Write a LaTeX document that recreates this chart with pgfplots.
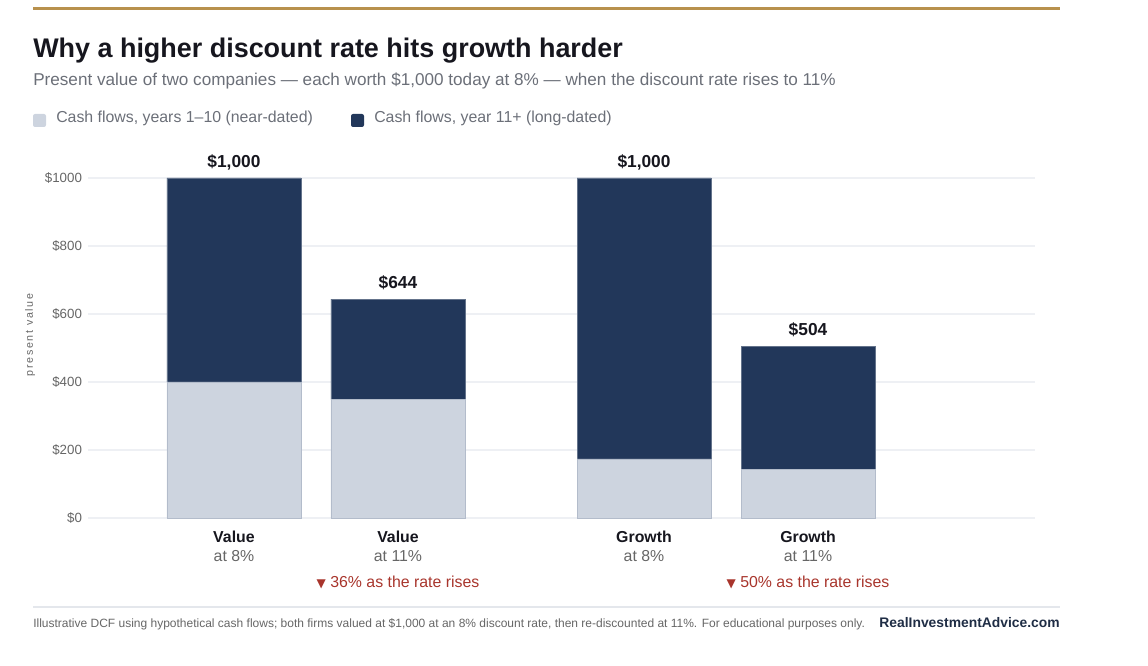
\documentclass[border=0pt]{standalone}
\usepackage{pgfplots}
\pgfplotsset{compat=1.18}
\usepackage{fontspec}
\setmainfont{Liberation Sans}
\newfontfamily\dejavu{DejaVu Sans}
\definecolor{navy}{HTML}{22375A}
\definecolor{lightbar}{HTML}{CDD4DF}
\definecolor{gold}{HTML}{B8914D}
\definecolor{tickgray}{HTML}{666666}
\definecolor{subgray}{HTML}{6B6F78}
\definecolor{darktext}{HTML}{16161E}
\definecolor{redtext}{HTML}{A8352C}
\definecolor{gridc}{HTML}{EEF0F4}
\definecolor{footline}{HTML}{E4E7EC}
\definecolor{brand}{HTML}{1F2D45}

\pgfplotstableread{
x near long
0   400 600
1   348 296
2.5 174 826
3.5 144 360
}\pvdata

\begin{document}
\begin{tikzpicture}[x=0.75pt,y=0.75pt]
\path[use as bounding box] (0,0) rectangle (1148,666);
% top gold rule
\fill[gold] (33,656) rectangle (1060,659);
% title & subtitle
\node[anchor=base west, inner sep=0, font=\fontsize{20.2}{22}\selectfont\bfseries, text=darktext] at (33,608) {Why a higher discount rate hits growth harder};
\node[anchor=base west, inner sep=0, font=\fontsize{12.85}{15}\selectfont, text=subgray] at (33,580) {Present value of two companies — each worth \$1,000 today at 8\% — when the discount rate rises to 11\%};
% legend
\fill[lightbar, rounded corners=1.5pt] (33,539) rectangle (46,552);
\node[anchor=base west, inner sep=0, font=\fontsize{11.9}{14}\selectfont, text=subgray] at (56,543) {Cash flows, years 1–10 (near-dated)};
\fill[navy, rounded corners=1.5pt] (351,539) rectangle (364,552);
\node[anchor=base west, inner sep=0, font=\fontsize{11.9}{14}\selectfont, text=subgray] at (374,543) {Cash flows, year 11+ (long-dated)};
% y label
\node[rotate=90, inner sep=0, font=\fontsize{8}{10}\selectfont\addfontfeature{LetterSpace=16}, text=tickgray] at (30,331) {present value};

\begin{axis}[
  at={(66pt,111pt)}, anchor=south west,
  scale only axis, width=710.25pt, height=255pt,
  xmin=-0.89, xmax=4.884, ymin=0, ymax=1000,
  ybar stacked, bar width=0.817,
  axis line style={draw=none},
  major tick length=0pt,
  ymajorgrids, grid style={gridc, line width=0.9pt},
  ytick={0,200,400,600,800,1000},
  yticklabels={\$0,\$200,\$400,\$600,\$800,\$1000},
  yticklabel style={font=\fontsize{10}{12}\selectfont, text=tickgray, xshift=-1pt},
  xtick={0,1,2.5,3.5},
  xticklabels={
    {{\color{darktext}\bfseries Value}\\{\color{tickgray}at 8\%}},
    {{\color{darktext}\bfseries Value}\\{\color{tickgray}at 11\%}\\[5.25pt]{\color{redtext}{\dejavu\fontsize{9}{10}\selectfont▼} 36\% as the rate rises}},
    {{\color{darktext}\bfseries Growth}\\{\color{tickgray}at 8\%}},
    {{\color{darktext}\bfseries Growth}\\{\color{tickgray}at 11\%}\\[5.25pt]{\color{redtext}{\dejavu\fontsize{9}{10}\selectfont▼} 50\% as the rate rises}}
  },
  xticklabel style={align=center, font=\fontsize{11.9}{14.25}\selectfont, anchor=north, yshift=-6pt},
  clip=false,
]
\addplot[fill=lightbar, draw=lightbar!85!navy, line width=0.4pt] table[x=x, y=near] {\pvdata};
\addplot[fill=navy, draw=navy!70!white, line width=0.4pt] table[x=x, y=long] {\pvdata};
\node[anchor=base, font=\fontsize{13}{15}\selectfont\bfseries, text=darktext, yshift=7.6pt] at (axis cs:0,1000) {\$1,000};
\node[anchor=base, font=\fontsize{13}{15}\selectfont\bfseries, text=darktext, yshift=8pt] at (axis cs:1,644) {\$644};
\node[anchor=base, font=\fontsize{13}{15}\selectfont\bfseries, text=darktext, yshift=7.6pt] at (axis cs:2.5,1000) {\$1,000};
\node[anchor=base, font=\fontsize{13}{15}\selectfont\bfseries, text=darktext, yshift=8pt] at (axis cs:3.5,504) {\$504};
\end{axis}

% footer
\draw[footline, line width=1.5pt] (33,59) -- (1060,59);
\node[anchor=base west, inner sep=0, font=\fontsize{9}{11}\selectfont, text=tickgray] at (33,38) {Illustrative DCF using hypothetical cash flows; both firms valued at \$1,000 at an 8\% discount rate, then re-discounted at 11\%. For educational purposes only.};
\node[anchor=base east, inner sep=0, font=\fontsize{10.4}{12}\selectfont\bfseries, text=brand] at (1060,38) {RealInvestmentAdvice.com};
\end{tikzpicture}
\end{document}
